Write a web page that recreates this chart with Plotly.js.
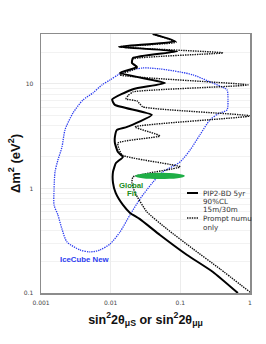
<!DOCTYPE html>
<html><head><meta charset="utf-8">
<script src="https://cdn.plot.ly/plotly-3.0.1.min.js"></script>
<style>html,body{margin:0;padding:0;background:#fff;}#c{width:266px;height:344px;}</style>
</head><body><div id="c"></div>
<script>
// PIP2-BD 5yr 90%CL 15m/30m (solid)
const pipX = [0.0405,0.085,0.0132,0.090,0.0209,0.0202,0.0239,0.0136,0.060,0.0209,0.0105,0.0115,0.039,0.0172,0.0123,0.0115,0.0115,0.0127,0.015,0.0119,0.0108,0.0108,0.0118,0.015,0.019,0.026,0.051,0.125,0.294,0.67];
const pipY = [30,25.5,22.6,20.5,17.7,15.9,14.5,12.7,10.2,8.9,7.1,6.3,5.05,3.88,3.63,3.11,2.72,2.23,2.0,1.75,1.44,1.13,0.906,0.695,0.583,0.511,0.359,0.231,0.159,0.1];
// Prompt numu only (dotted)
const promptX = [0.040,0.087,0.0132,0.41,0.0209,0.0202,0.024,0.0136,0.935,0.0209,0.0177,0.0166,0.0239,0.029,1.0,0.0224,0.051,0.0127,0.0146,0.099,0.0209,0.0202,0.0224,0.0332,0.0644,0.152,0.371,1.0];
const promptY = [30,25,22.6,19.8,17.3,15.9,14.2,12.2,9.78,8.38,7.7,7.18,6.87,6.03,4.94,3.88,3.18,2.72,2.09,1.61,1.29,1.13,0.906,0.596,0.409,0.264,0.170,0.102];
// IceCube New contour (blue dotted)
const iceX = [0.138,0.0989,0.0564,0.0405,0.0264,0.0189,0.0136,0.00978,0.00703,0.00505,0.00363,0.00236,0.0020,0.00175,0.00154,0.00154,0.00159,0.00175,0.0020,0.00221,0.00288,0.00401,0.00557,0.00751,0.00978,0.0127,0.0150,0.0291,0.051,0.0989,0.152,0.267,0.396,0.468,0.483,0.468,0.347,0.267,0.191,0.138];
const iceY = [2.33,1.79,1.44,1.15,0.794,0.557,0.383,0.294,0.258,0.247,0.258,0.308,0.409,0.557,0.695,0.978,1.44,1.87,2.49,3.63,5.27,7.03,8.20,9.78,10.9,12.2,13.0,14.2,13.9,13.0,12.2,10.45,9.35,8.76,7.03,5.64,5.16,4.53,3.25,2.33];
// Global fit ellipse extent
const gfX = [0.0224, 0.116];
const gfY = [1.23, 1.41];
const xTickVals = [0.001, 0.01, 0.1, 1];
const xTickText = ['0.001','0.01','0.1','1'];
const yTickVals = [0.1, 1, 10];
const yTickText = ['0.1','1','10'];

const traces = [
  {x: iceX, y: iceY, mode:'lines', line:{color:'#2b3cf0', width:1.3, dash:'1.3px,1px', shape:'spline', smoothing:0.7}, hoverinfo:'skip'},
  {x: promptX, y: promptY, mode:'lines', line:{color:'#111', width:1.4, dash:'1.4px,1px', shape:'spline', smoothing:0.45}, hoverinfo:'skip'},
  {x: pipX, y: pipY, mode:'lines', line:{color:'#000', width:2, shape:'spline', smoothing:0.45}, hoverinfo:'skip'}
];

function P(px){return (px-41)/209;}
function Q(py){return (293-py)/259;}
const legFont = {family:'DejaVu Sans', size:7.2, color:'#333'};
const ann = (t,px,py,font,xa)=>({text:t, xref:'paper', yref:'paper', x:P(px), y:Q(py), showarrow:false, xanchor:xa||'center', yanchor:'middle', font:font});
const blueF = {family:'Liberation Sans', size:7.8, color:'#2b3cf0', weight:'bold'};
const greenF = {family:'Liberation Sans', size:7.8, color:'#1a8c1a', weight:'bold'};

const layout = {
  width:266, height:344,
  margin:{l:41, r:16, t:34, b:51},
  paper_bgcolor:'#fff', plot_bgcolor:'#fff',
  showlegend:false,
  xaxis:{type:'log', range:[-3,0], tickvals:xTickVals, ticktext:xTickText,
    tickfont:{family:'DejaVu Sans', size:6, color:'#444'}, ticklabelstandoff:3,
    showgrid:true, gridcolor:'#ececec', gridwidth:1,
    showline:true, linecolor:'#8c8c8c', linewidth:1.5, mirror:true, zeroline:false,
    title:{text:'sin<sup>2</sup>2θ<sub>μS</sub> or sin<sup>2</sup>2θ<sub>μμ</sub>', font:{family:'Liberation Sans', size:12.5, color:'#111', weight:'bold'}, standoff:10}},
  yaxis:{type:'log', range:[-1, Math.log10(30)], tickvals:yTickVals, ticktext:yTickText,
    tickfont:{family:'DejaVu Sans', size:6, color:'#444'}, ticklabelstandoff:5,
    showgrid:true, gridcolor:'#ececec', gridwidth:1,
    minor:{showgrid:true, dtick:'D1', gridcolor:'#f2f2f2', gridwidth:1},
    showline:true, linecolor:'#8c8c8c', linewidth:1.5, mirror:true, zeroline:false,
    title:{text:'Δm<sup>2</sup> (eV<sup>2</sup>)', font:{family:'Liberation Sans', size:13, color:'#111', weight:'bold'}, standoff:0}},
  shapes:[
    {type:'circle', xref:'x', yref:'y', x0:gfX[0], x1:gfX[1], y0:gfY[0], y1:gfY[1], fillcolor:'#1fae46', line:{width:0}},
    {type:'line', xref:'paper', yref:'paper', x0:P(187), x1:P(198), y0:Q(193), y1:Q(193), line:{color:'#000', width:2}},
    {type:'line', xref:'paper', yref:'paper', x0:P(187), x1:P(198), y0:Q(218), y1:Q(218), line:{color:'#111', width:1.4, dash:'1.4px,1px'}}
  ],
  annotations:[
    ann('IceCube New', 84, 259, blueF),
    ann('Global', 131, 186, greenF),
    ann('Fit', 132, 193, greenF),
    ann('PIP2-BD 5yr', 201, 193, legFont, 'left'),
    ann('90%CL', 201, 201, legFont, 'left'),
    ann('15m/30m', 201, 209, legFont, 'left'),
    ann('Prompt numu', 201, 218, legFont, 'left'),
    ann('only', 201, 227, legFont, 'left')
  ]
};
Plotly.newPlot('c', traces, layout, {staticPlot:true, displayModeBar:false});
</script>
</body></html>
